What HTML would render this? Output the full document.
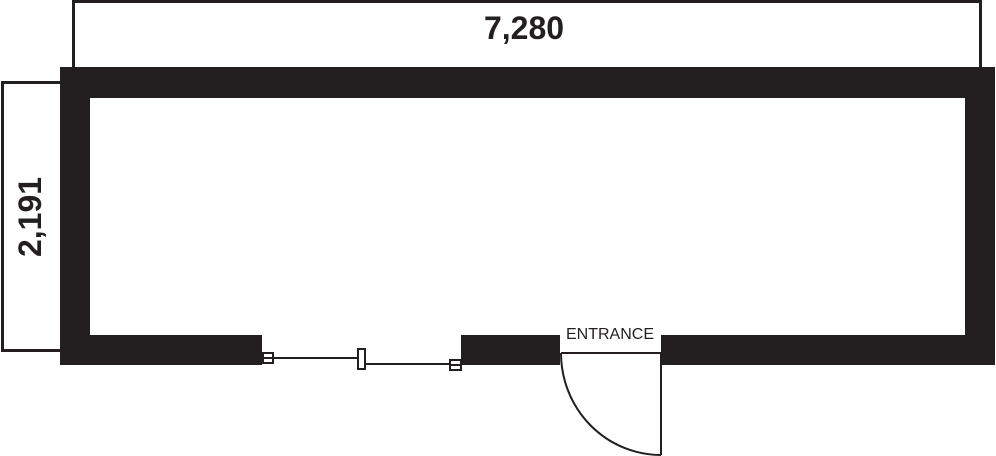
<!DOCTYPE html>
<html><head><style>
html,body{margin:0;padding:0;background:#fff;width:996px;height:456px;overflow:hidden}
</style></head><body>
<svg width="996" height="456" viewBox="0 0 996 456" xmlns="http://www.w3.org/2000/svg">
<g fill="none" stroke="#231f20" stroke-width="3">
<path d="M73.5 67 V1.5 H980.5 V67"/>
<path d="M60 82.5 H2.5 V350.5 H60"/>
</g>
<g fill="#231f20">
<rect x="60" y="67" width="935" height="31"/>
<rect x="60" y="67" width="30" height="298"/>
<rect x="965" y="67" width="30" height="298"/>
<rect x="60" y="335" width="202" height="30"/>
<rect x="461" y="335" width="99" height="30"/>
<rect x="661" y="335" width="334" height="30"/>
</g>
<rect x="90" y="98" width="875" height="237" fill="#fff"/>
<rect x="560" y="320" width="101" height="32" fill="#fff"/>
<g fill="#fff" stroke="#231f20" stroke-width="2">
<line x1="273" y1="358" x2="358" y2="358"/>
<line x1="366" y1="364" x2="450" y2="364"/>
<rect x="263" y="353" width="10" height="10"/>
<line x1="263" y1="358" x2="273" y2="358"/>
<rect x="358" y="349" width="7" height="20"/>
<rect x="450" y="360" width="11" height="10"/>
<line x1="450" y1="365" x2="461" y2="365"/>
<line x1="561" y1="353" x2="661" y2="353"/>
<line x1="661" y1="353" x2="661" y2="455"/>
<path d="M561 353 A100 102 0 0 0 661 455" fill="none"/>
</g>
<text x="524" y="39" text-anchor="middle" font-family="Liberation Sans, sans-serif" font-weight="bold" font-size="32" fill="#231f20">7,280</text>
<text transform="translate(41,217) rotate(-90)" text-anchor="middle" font-family="Liberation Sans, sans-serif" font-weight="bold" font-size="32" fill="#231f20">2,191</text>
<text x="610" y="339" text-anchor="middle" font-family="Liberation Sans, sans-serif" font-size="16" fill="#231f20">ENTRANCE</text>
</svg>
</body></html>
